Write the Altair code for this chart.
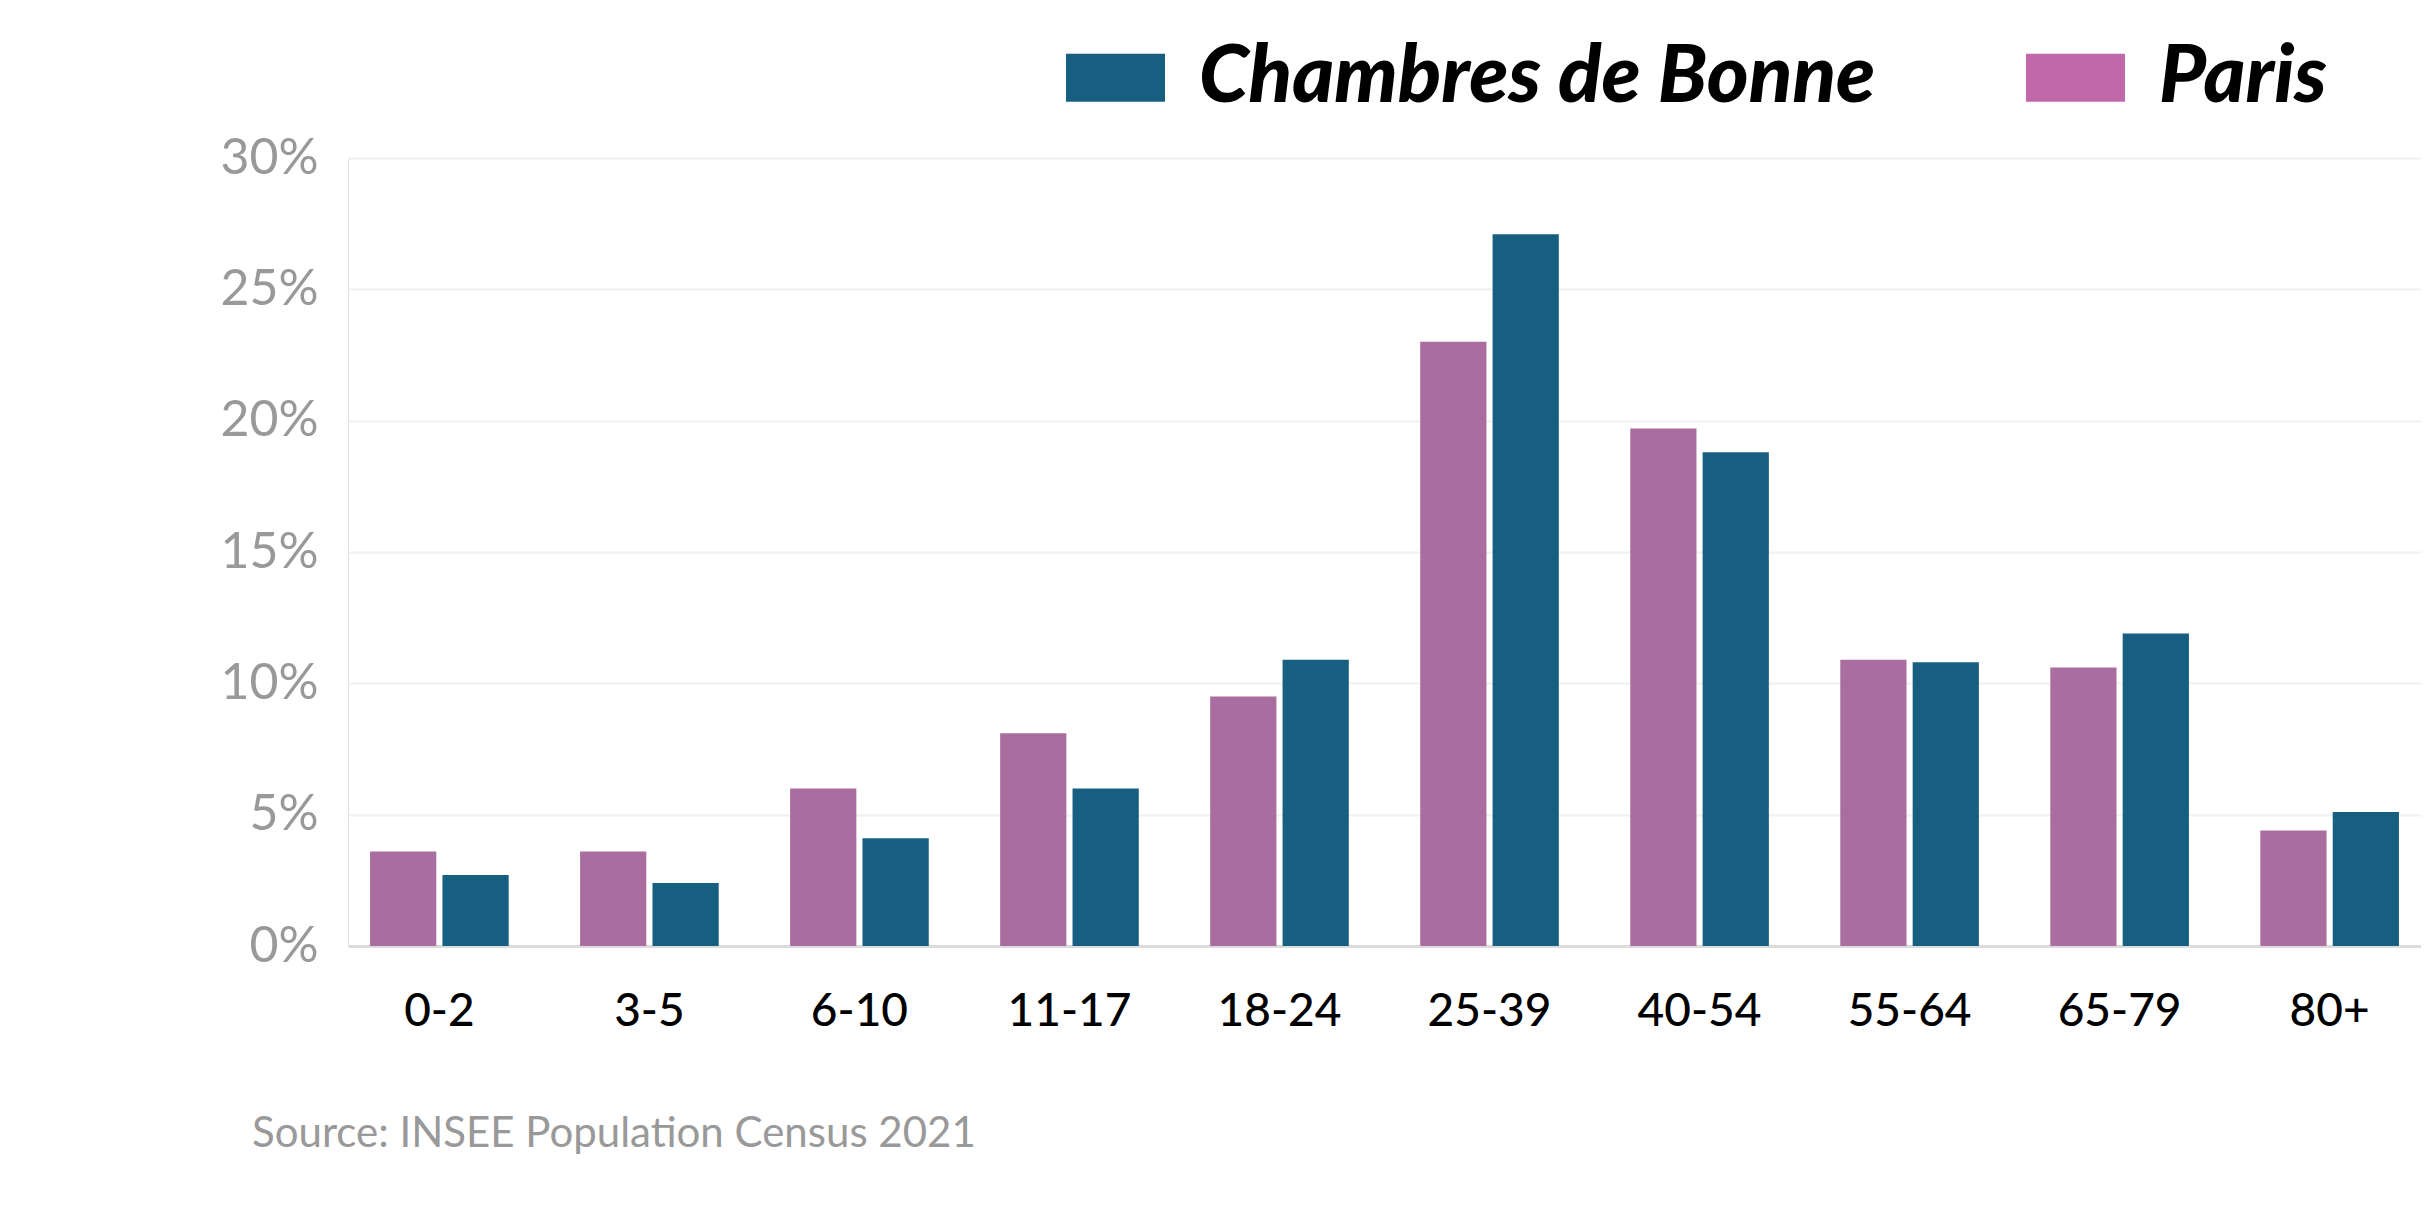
import altair as alt
import pandas as pd

age_groups = ["0-2", "3-5", "6-10", "11-17", "18-24", "25-39", "40-54", "55-64", "65-79", "80+"]
paris = [3.6, 3.6, 6.0, 8.1, 9.5, 23.0, 19.7, 10.9, 10.6, 4.4]
chambres = [2.7, 2.4, 4.1, 6.0, 10.9, 27.1, 18.8, 10.8, 11.9, 5.1]
series_names = ["Chambres de Bonne", "Paris"]
bar_colors = ["#175F80", "#A96E9F"]
legend_colors = ["#175F80", "#C168AA"]
y_ticks = [0, 5, 10, 15, 20, 25, 30]
source_text = "Source: INSEE Population Census 2021"

rows = []
for i, a in enumerate(age_groups):
    rows.append({"age": a, "series": "Paris", "value": paris[i]})
    rows.append({"age": a, "series": "Chambres de Bonne", "value": chambres[i]})
df = pd.DataFrame(rows)

FONT = "Lato"

bars = alt.Chart(df).mark_bar().encode(
    x=alt.X("age:N", sort=age_groups,
            scale=alt.Scale(paddingInner=0.34, paddingOuter=0.105),
            axis=alt.Axis(title=None, labelAngle=0, labelFontSize=46, labelColor="#000000",
                          labelFont=FONT, labelFontWeight=500, labelPadding=43, ticks=False,
                          domainColor="#DCDCDC", domainWidth=3, grid=False)),
    xOffset=alt.XOffset("series:N", sort=["Paris", "Chambres de Bonne"],
                        scale=alt.Scale(paddingInner=0.085, paddingOuter=0)),
    y=alt.Y("value:Q", scale=alt.Scale(domain=[0, 30], nice=False),
            axis=alt.Axis(values=y_ticks, labelExpr="datum.value + '%'", title=None,
                          domain=False, ticks=False, gridColor="#F0F0F0", gridWidth=2,
                          labelFontSize=50, labelColor="#999999", labelPadding=30,
                          labelFont=FONT)),
    color=alt.Color("series:N", scale=alt.Scale(domain=series_names, range=bar_colors),
                    legend=None),
)

legend_layer = alt.Chart(df).mark_square(size=0, opacity=1).encode(
    fill=alt.Fill("series:N", scale=alt.Scale(domain=series_names, range=legend_colors),
                  legend=alt.Legend(title=None, orient="none", legendX=718, legendY=-130,
                                    direction="horizontal",
                                    symbolType="M-1,-0.485H1V0.485H-1Z", symbolSize=9801,
                                    symbolStrokeWidth=0, symbolOpacity=1,
                                    labelFont=FONT, labelFontSize=80, labelFontWeight=900,
                                    labelFontStyle="italic", labelColor="#000000",
                                    labelOffset=34, columnPadding=150, labelLimit=1000)),
)

chart = alt.layer(legend_layer, bars).properties(
    width=2073,
    height=788,
    padding={"left": 340, "top": 150, "right": 0, "bottom": 240},
    autosize=alt.AutoSizeParams(type="none"),
    title=alt.TitleParams(source_text, orient="bottom", anchor="start", frame="group",
                          dx=-96, offset=80, fontSize=42, color="#999999", font=FONT,
                          fontWeight="normal"),
).configure_view(stroke=None).configure(background="#FFFFFF")

chart.save("out.html", embed_options={"renderer": "svg", "actions": False})
